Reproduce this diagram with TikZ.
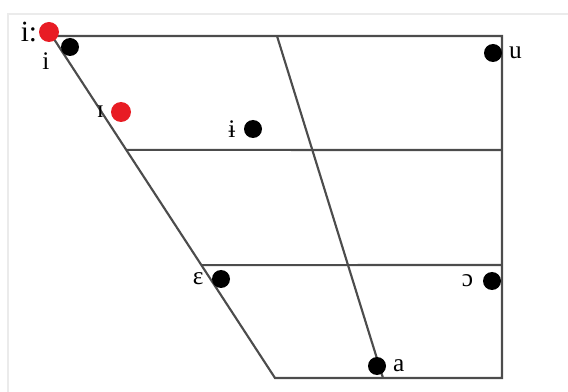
\documentclass[tikz,border=0pt]{standalone}
\usepackage{fontspec}
\setmainfont{Liberation Serif}
\usetikzlibrary{positioning, calc}

\definecolor{markred}{RGB}{232,28,36}
\tikzset{
  chart/.style={draw=black!70, line width=1.6pt},
  vowel/.style={circle, fill=black, inner sep=0pt, minimum size=13.5pt},
  target/.style={circle, fill=markred, inner sep=0pt, minimum size=15pt},
  sym/.style={inner sep=0pt, font=\fontsize{19}{20}\selectfont},
}

\begin{document}
\begin{tikzpicture}[x=0.75pt, y=-0.75pt]
\useasboundingbox (0,0) rectangle (568,392);
\draw[black!8, line width=1pt] (8,392) -- (8,14) -- (568,14);

% frame of the chart
\coordinate (tl) at (52,36);
\coordinate (tr) at (502,36);
\coordinate (br) at (502,378);
\coordinate (bl) at (275,378);
\coordinate (tm) at (277,36);
\coordinate (bm) at (383,378);
\coordinate (ml) at ($(tl)!0.333!(bl)$);
\coordinate (mr) at (502,150);
\coordinate (ll) at ($(tl)!0.67!(bl)$);
\coordinate (lr) at (502,265);
\draw[chart] (tl) -- (tr) -- (br) -- (bl) -- cycle;
\draw[chart] (tm) -- (bm);
\draw[chart] (ml) -- (mr);
\draw[chart] (ll) -- (lr);

% vowels
\node[vowel] (iv) at (70,47) {};
\node[vowel] (uv) at (493,53) {};
\node[vowel] (barv) at (253,129) {};
\node[vowel] (epsv) at (221,279) {};
\node[vowel] (openov) at (492,281) {};
\node[vowel] (av) at (377,366) {};
\node[target] (longi) at (49,32) {};
\node[target] (smalli) at (121,112) {};

% symbols
\node[sym, font=\fontsize{22}{23}\selectfont, left=1pt of longi] (longilab) {i:};
\node[sym] (ilab) at (46,61) {i};
\node[sym, left=5pt of smalli] (smallilab) {ɪ};
\node[sym, left=6pt of barv] (barlab) {ɨ};
\node[sym, left=6pt of epsv] (epslab) {ɛ};
\node[sym, left=7pt of openov] (openolab) {ɔ};
\node[sym, right=5pt of uv] (ulab) {u};
\node[sym, right=5pt of av] (alab) {a};
\end{tikzpicture}
\end{document}
